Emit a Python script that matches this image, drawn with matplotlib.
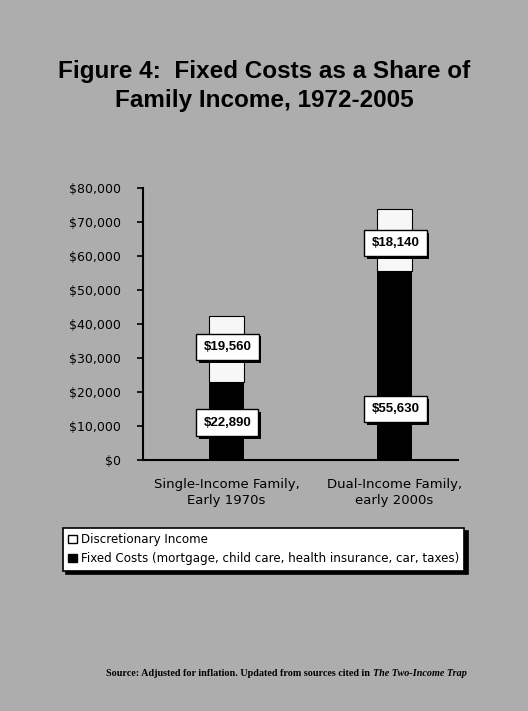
import matplotlib
matplotlib.use("Agg")
import matplotlib.pyplot as plt
import matplotlib.patheffects as pe
from matplotlib.patches import Patch

# data
categories = ["Single-Income Family,\nEarly 1970s", "Dual-Income Family,\nearly 2000s"]
fixed_costs = [22890, 55630]
discretionary = [19560, 18140]
series_names = ["Discretionary Income",
                "Fixed Costs (mortgage, child care, health insurance, car, taxes)"]
y_ticks = [0, 10000, 20000, 30000, 40000, 50000, 60000, 70000, 80000]

bg = "#adadad"

fig = plt.figure(figsize=(5.28, 7.11), dpi=100, facecolor=bg)
ax = fig.add_axes([0.2708, 0.3530, 0.5966, 0.3826])
ax.set_facecolor(bg)

x = list(range(len(categories)))
ax.bar(x, fixed_costs, width=0.208, color="black", zorder=2)
ax.bar(x, discretionary, width=0.208, bottom=fixed_costs, color="#f7f7f7",
       edgecolor="black", linewidth=0.8, zorder=2)

# value boxes, white with a black drop shadow
label_y = [[fixed_costs[0] * 0.48, fixed_costs[0] + discretionary[0] * 0.53],
           [15000, fixed_costs[1] + discretionary[1] * 0.45]]
for i in x:
    for val, yy in zip([fixed_costs[i], discretionary[i]], label_y[i]):
        t = ax.text(i + 0.005, yy, "${:,}".format(val), ha="center", va="center",
                    fontsize=9.5, fontweight="bold", family="Liberation Sans", zorder=5,
                    bbox=dict(boxstyle="square,pad=0.55", fc="white", ec="black", lw=1))
        t.get_bbox_patch().set_path_effects(
            [pe.SimplePatchShadow(offset=(2, -2), shadow_rgbFace="black", alpha=1),
             pe.Normal()])

ax.set_xlim(-0.497, 1.378)
ax.set_ylim(0, 80000)
ax.set_yticks(y_ticks)
ax.set_yticklabels(["${:,}".format(v) for v in y_ticks], fontsize=9,
                   family="DejaVu Sans")
ax.set_xticks(x)
ax.set_xticklabels(categories, fontsize=9.5, family="DejaVu Sans", linespacing=1.3)
ax.tick_params(axis="y", length=4, width=1.2, pad=12, direction="out")
ax.tick_params(axis="x", length=0, pad=13)
for s in ["top", "right"]:
    ax.spines[s].set_visible(False)
for s in ["left", "bottom"]:
    ax.spines[s].set_linewidth(1.5)

# title
fig.text(0.5, 0.8903, "Figure 4:  Fixed Costs as a Share of", ha="center",
         va="baseline", fontsize=17.5, fontweight="bold", family="Liberation Sans")
fig.text(0.5, 0.8495, "Family Income, 1972-2005", ha="center",
         va="baseline", fontsize=17.5, fontweight="bold", family="Liberation Sans")

# legend
handles = [Patch(facecolor="white", edgecolor="black", linewidth=1),
           Patch(facecolor="black", edgecolor="black")]
leg = fig.legend(handles, series_names, loc="upper left",
                 bbox_to_anchor=(0.119, 0.2574), fancybox=False,
                 edgecolor="black", framealpha=1, borderpad=0.45,
                 handlelength=0.7, handleheight=0.7, handletextpad=0.35,
                 labelspacing=0.5, borderaxespad=0,
                 prop={"family": "DejaVu Sans", "size": 8.6},
                 shadow={"color": "black", "alpha": 1, "ox": 2.5, "oy": -2.5})
leg.get_frame().set_linewidth(1.2)

# source line, book title in italics
t1 = fig.text(0.2008, 1 - 673 / 711, "Source: Adjusted for inflation. Updated from sources cited in ",
              fontsize=7.3, fontweight="bold", family="Liberation Serif", va="center")
ax.annotate("The Two-Income Trap", xy=(1, 0.5), xycoords=t1, va="center",
            fontsize=7.3, fontweight="bold", fontstyle="italic",
            family="Liberation Serif", annotation_clip=False)

fig.savefig("out.png", dpi=100, facecolor=bg)
